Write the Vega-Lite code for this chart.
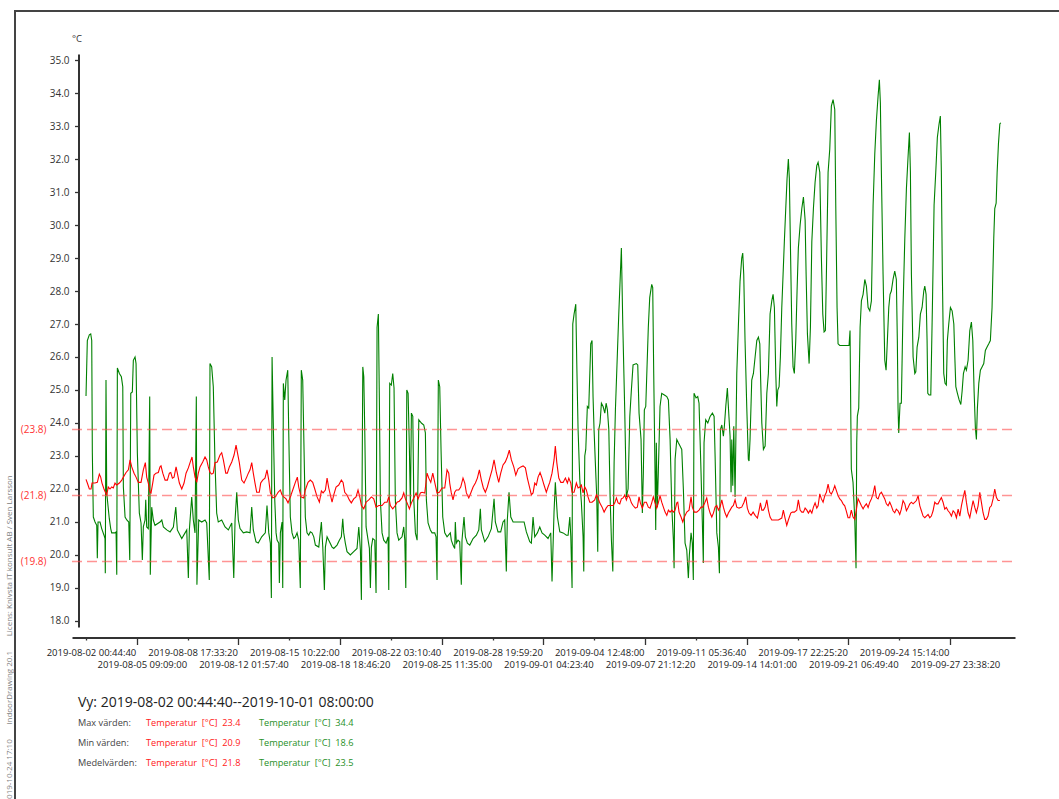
{
"$schema":"https://vega.github.io/schema/vega-lite/v6.json",
"width":1050,"height":795,
"autosize":{"type":"none"},
"padding":{"left":15,"top":11,"right":0,"bottom":0},
"background":"white",
"config":{"view":{"stroke":"#444444","strokeWidth":2},"font":"Open Sans","axis":{"labelFont":"Open Sans","titleFont":"Open Sans"},"text":{"font":"Open Sans"}},
"datasets":{
"green":[
{"time":"2019-08-02 00:45","temp":24.82},{"time":"2019-08-02 02:51","temp":26.5},{"time":"2019-08-02 06:01","temp":26.67},{"time":"2019-08-02 08:14","temp":26.7},{"time":"2019-08-02 09:49","temp":26.5},{"time":"2019-08-02 10:46","temp":23.1},{"time":"2019-08-02 12:20","temp":21.15},{"time":"2019-08-02 15:02","temp":21.0},{"time":"2019-08-02 17:43","temp":20.9},{"time":"2019-08-02 18:40","temp":19.9},{"time":"2019-08-02 19:47","temp":21.0},{"time":"2019-08-02 22:56","temp":21.0},
{"time":"2019-08-03 01:35","temp":20.8},{"time":"2019-08-03 05:13","temp":20.6},{"time":"2019-08-03 06:48","temp":20.5},{"time":"2019-08-03 07:17","temp":19.45},{"time":"2019-08-03 08:23","temp":25.3},{"time":"2019-08-03 09:30","temp":21.9},{"time":"2019-08-03 12:01","temp":21.4},{"time":"2019-08-03 13:36","temp":21.1},{"time":"2019-08-03 15:49","temp":20.8},{"time":"2019-08-03 17:24","temp":20.67},{"time":"2019-08-03 22:38","temp":20.67},
{"time":"2019-08-04 00:19","temp":20.7},{"time":"2019-08-04 01:25","temp":19.4},{"time":"2019-08-04 02:22","temp":25.67},{"time":"2019-08-04 05:32","temp":25.5},{"time":"2019-08-04 08:42","temp":25.4},{"time":"2019-08-04 10:55","temp":25.1},{"time":"2019-08-04 11:52","temp":22.06},{"time":"2019-08-04 14:33","temp":21.15},{"time":"2019-08-04 17:15","temp":21.06},{"time":"2019-08-04 20:25","temp":21.0},{"time":"2019-08-04 21:59","temp":19.85},{"time":"2019-08-04 23:34","temp":24.9},
{"time":"2019-08-05 02:03","temp":24.94},{"time":"2019-08-05 03:38","temp":25.9},{"time":"2019-08-05 06:20","temp":26.0},{"time":"2019-08-05 07:55","temp":25.8},{"time":"2019-08-05 09:58","temp":23.1},{"time":"2019-08-05 13:08","temp":21.27},{"time":"2019-08-05 15:49","temp":20.97},{"time":"2019-08-05 17:53","temp":19.85},{"time":"2019-08-05 19:28","temp":20.85},{"time":"2019-08-05 22:09","temp":21.06},{"time":"2019-08-05 23:15","temp":21.67},
{"time":"2019-08-06 00:47","temp":20.85},{"time":"2019-08-06 03:19","temp":20.8},{"time":"2019-08-06 05:32","temp":24.8},{"time":"2019-08-06 06:29","temp":19.4},{"time":"2019-08-06 08:42","temp":21.45},{"time":"2019-08-06 11:14","temp":21.06},{"time":"2019-08-06 13:55","temp":20.9},{"time":"2019-08-06 21:50","temp":21.0},
{"time":"2019-08-07 00:38","temp":21.06},{"time":"2019-08-07 03:10","temp":20.85},{"time":"2019-08-07 08:33","temp":20.76},{"time":"2019-08-07 13:46","temp":20.7},{"time":"2019-08-07 18:59","temp":20.85},{"time":"2019-08-07 22:47","temp":21.45},
{"time":"2019-08-08 01:16","temp":20.76},{"time":"2019-08-08 05:32","temp":20.6},{"time":"2019-08-08 08:14","temp":20.5},{"time":"2019-08-08 13:27","temp":20.67},{"time":"2019-08-08 16:08","temp":20.76},{"time":"2019-08-08 18:40","temp":19.3},{"time":"2019-08-08 20:15","temp":20.76},
{"time":"2019-08-09 00:00","temp":21.76},{"time":"2019-08-09 02:32","temp":21.06},{"time":"2019-08-09 05:13","temp":20.67},{"time":"2019-08-09 07:17","temp":24.8},{"time":"2019-08-09 08:14","temp":19.1},{"time":"2019-08-09 11:05","temp":21.06},{"time":"2019-08-09 15:49","temp":21.0},{"time":"2019-08-09 21:03","temp":21.06},{"time":"2019-08-09 23:44","temp":20.97},
{"time":"2019-08-10 03:48","temp":19.24},{"time":"2019-08-10 04:54","temp":25.8},{"time":"2019-08-10 07:36","temp":25.7},{"time":"2019-08-10 10:08","temp":25.1},{"time":"2019-08-10 12:49","temp":22.8},{"time":"2019-08-10 15:30","temp":21.27},{"time":"2019-08-10 18:02","temp":21.0},{"time":"2019-08-10 23:25","temp":21.06},
{"time":"2019-08-11 04:45","temp":20.85},{"time":"2019-08-11 09:58","temp":20.76},{"time":"2019-08-11 15:21","temp":20.97},{"time":"2019-08-11 18:31","temp":19.3},{"time":"2019-08-11 20:34","temp":21.06},{"time":"2019-08-11 23:15","temp":21.9},
{"time":"2019-08-12 01:44","temp":21.06},{"time":"2019-08-12 04:26","temp":20.8},{"time":"2019-08-12 09:39","temp":20.67},{"time":"2019-08-12 15:02","temp":20.7},{"time":"2019-08-12 20:15","temp":20.67},{"time":"2019-08-12 22:56","temp":21.45},
{"time":"2019-08-13 01:25","temp":20.76},{"time":"2019-08-13 05:42","temp":20.4},{"time":"2019-08-13 09:20","temp":20.36},{"time":"2019-08-13 14:43","temp":20.55},{"time":"2019-08-13 20:25","temp":20.67},{"time":"2019-08-13 23:06","temp":21.5},
{"time":"2019-08-14 01:54","temp":20.67},{"time":"2019-08-14 04:26","temp":20.36},{"time":"2019-08-14 06:01","temp":18.7},{"time":"2019-08-14 07:07","temp":26.0},{"time":"2019-08-14 09:49","temp":23.2},{"time":"2019-08-14 11:23","temp":21.67},{"time":"2019-08-14 13:27","temp":20.67},{"time":"2019-08-14 15:02","temp":20.45},{"time":"2019-08-14 17:43","temp":20.36},{"time":"2019-08-14 18:40","temp":19.15},{"time":"2019-08-14 20:15","temp":20.67},{"time":"2019-08-14 22:56","temp":21.0},
{"time":"2019-08-15 00:00","temp":19.0},{"time":"2019-08-15 00:57","temp":25.2},{"time":"2019-08-15 03:10","temp":24.7},{"time":"2019-08-15 05:13","temp":25.3},{"time":"2019-08-15 07:55","temp":25.6},{"time":"2019-08-15 09:30","temp":23.7},{"time":"2019-08-15 12:01","temp":21.15},{"time":"2019-08-15 14:43","temp":20.67},{"time":"2019-08-15 17:24","temp":20.5},{"time":"2019-08-15 19:56","temp":20.55},{"time":"2019-08-15 22:38","temp":20.67},
{"time":"2019-08-16 01:16","temp":20.45},{"time":"2019-08-16 03:48","temp":19.0},{"time":"2019-08-16 05:23","temp":25.6},{"time":"2019-08-16 07:36","temp":25.3},{"time":"2019-08-16 09:11","temp":23.7},{"time":"2019-08-16 11:43","temp":21.15},{"time":"2019-08-16 14:24","temp":20.67},{"time":"2019-08-16 17:05","temp":20.6},{"time":"2019-08-16 19:37","temp":20.7},{"time":"2019-08-16 22:19","temp":20.67},
{"time":"2019-08-17 01:07","temp":20.55},{"time":"2019-08-17 03:38","temp":20.3},{"time":"2019-08-17 09:01","temp":20.24},{"time":"2019-08-17 13:08","temp":21.0},{"time":"2019-08-17 15:21","temp":20.24},{"time":"2019-08-17 17:53","temp":18.94},{"time":"2019-08-17 19:28","temp":20.24},{"time":"2019-08-17 22:09","temp":20.55},
{"time":"2019-08-18 00:47","temp":20.45},{"time":"2019-08-18 06:01","temp":20.24},{"time":"2019-08-18 08:42","temp":20.2},{"time":"2019-08-18 13:55","temp":20.3},{"time":"2019-08-18 17:34","temp":20.45},{"time":"2019-08-18 20:44","temp":20.55},{"time":"2019-08-18 22:56","temp":21.1},
{"time":"2019-08-19 00:28","temp":20.67},{"time":"2019-08-19 03:00","temp":20.36},{"time":"2019-08-19 05:42","temp":20.1},{"time":"2019-08-19 10:55","temp":20.0},{"time":"2019-08-19 16:18","temp":20.1},{"time":"2019-08-19 21:31","temp":20.2},
{"time":"2019-08-20 00:19","temp":20.85},{"time":"2019-08-20 02:51","temp":20.15},{"time":"2019-08-20 04:26","temp":18.64},{"time":"2019-08-20 06:39","temp":25.7},{"time":"2019-08-20 08:14","temp":25.4},{"time":"2019-08-20 09:49","temp":23.7},{"time":"2019-08-20 11:52","temp":20.85},{"time":"2019-08-20 15:02","temp":20.45},{"time":"2019-08-20 17:05","temp":20.2},{"time":"2019-08-20 18:40","temp":19.0},{"time":"2019-08-20 20:15","temp":20.24},{"time":"2019-08-20 22:28","temp":20.5},
{"time":"2019-08-21 01:35","temp":20.45},{"time":"2019-08-21 03:38","temp":18.85},{"time":"2019-08-21 05:13","temp":26.9},{"time":"2019-08-21 07:17","temp":27.3},{"time":"2019-08-21 08:52","temp":24.7},{"time":"2019-08-21 10:26","temp":21.67},{"time":"2019-08-21 13:08","temp":20.67},{"time":"2019-08-21 15:49","temp":20.45},{"time":"2019-08-21 19:28","temp":20.36},{"time":"2019-08-21 22:38","temp":20.55},{"time":"2019-08-21 23:44","temp":18.94},
{"time":"2019-08-22 01:16","temp":25.2},{"time":"2019-08-22 03:48","temp":25.15},{"time":"2019-08-22 06:01","temp":25.5},{"time":"2019-08-22 08:04","temp":25.06},{"time":"2019-08-22 10:08","temp":21.67},{"time":"2019-08-22 12:49","temp":20.67},{"time":"2019-08-22 15:30","temp":20.45},{"time":"2019-08-22 20:44","temp":20.55},{"time":"2019-08-22 23:25","temp":20.85},
{"time":"2019-08-23 01:07","temp":20.45},{"time":"2019-08-23 02:41","temp":19.0},{"time":"2019-08-23 04:16","temp":25.0},{"time":"2019-08-23 06:20","temp":24.9},{"time":"2019-08-23 08:23","temp":23.2},{"time":"2019-08-23 09:58","temp":21.5},{"time":"2019-08-23 11:33","temp":24.3},{"time":"2019-08-23 13:46","temp":24.2},{"time":"2019-08-23 15:21","temp":21.67},{"time":"2019-08-23 17:53","temp":20.67},{"time":"2019-08-23 20:34","temp":20.45},{"time":"2019-08-23 23:15","temp":24.1},
{"time":"2019-08-24 03:19","temp":24.0},{"time":"2019-08-24 07:07","temp":23.94},{"time":"2019-08-24 09:39","temp":23.7},{"time":"2019-08-24 11:14","temp":21.67},{"time":"2019-08-24 13:55","temp":20.97},{"time":"2019-08-24 17:34","temp":20.76},{"time":"2019-08-24 20:15","temp":20.67},
{"time":"2019-08-25 00:28","temp":20.67},{"time":"2019-08-25 02:32","temp":20.55},{"time":"2019-08-25 04:07","temp":19.24},{"time":"2019-08-25 06:10","temp":25.3},{"time":"2019-08-25 08:23","temp":25.1},{"time":"2019-08-25 10:26","temp":23.2},{"time":"2019-08-25 13:08","temp":21.15},{"time":"2019-08-25 16:18","temp":20.67},{"time":"2019-08-25 19:56","temp":20.55},
{"time":"2019-08-26 01:07","temp":20.67},{"time":"2019-08-26 02:41","temp":20.45},{"time":"2019-08-26 05:23","temp":20.3},{"time":"2019-08-26 08:04","temp":20.2},{"time":"2019-08-26 09:01","temp":21.0},{"time":"2019-08-26 10:36","temp":20.36},{"time":"2019-08-26 13:17","temp":20.45},{"time":"2019-08-26 15:59","temp":20.4},{"time":"2019-08-26 18:31","temp":19.1},{"time":"2019-08-26 19:37","temp":20.45},{"time":"2019-08-26 22:47","temp":21.15},
{"time":"2019-08-27 00:57","temp":20.55},{"time":"2019-08-27 04:07","temp":20.36},{"time":"2019-08-27 07:55","temp":20.3},{"time":"2019-08-27 13:08","temp":20.5},{"time":"2019-08-27 18:21","temp":20.6},{"time":"2019-08-27 22:09","temp":20.76},
{"time":"2019-08-28 00:38","temp":21.4},{"time":"2019-08-28 02:13","temp":20.76},{"time":"2019-08-28 07:36","temp":20.4},{"time":"2019-08-28 12:49","temp":20.55},{"time":"2019-08-28 18:02","temp":20.8},{"time":"2019-08-28 22:19","temp":21.7},
{"time":"2019-08-29 00:19","temp":21.0},{"time":"2019-08-29 04:35","temp":20.7},{"time":"2019-08-29 08:52","temp":20.7},{"time":"2019-08-29 12:30","temp":21.0},{"time":"2019-08-29 15:11","temp":21.06},{"time":"2019-08-29 17:43","temp":19.5},{"time":"2019-08-29 19:18","temp":21.06},{"time":"2019-08-29 21:59","temp":21.9},
{"time":"2019-08-30 00:47","temp":21.15},{"time":"2019-08-30 04:26","temp":21.0},{"time":"2019-08-30 09:39","temp":21.0},{"time":"2019-08-30 15:02","temp":21.0},{"time":"2019-08-30 21:50","temp":21.0},
{"time":"2019-08-31 01:25","temp":20.7},{"time":"2019-08-31 06:48","temp":20.4},{"time":"2019-08-31 09:20","temp":20.36},{"time":"2019-08-31 12:01","temp":21.15},{"time":"2019-08-31 14:43","temp":20.55},{"time":"2019-08-31 18:50","temp":20.67},{"time":"2019-08-31 22:38","temp":20.85},
{"time":"2019-09-01 02:13","temp":20.67},{"time":"2019-09-01 06:29","temp":20.6},{"time":"2019-09-01 11:43","temp":20.5},{"time":"2019-09-01 15:59","temp":20.67},{"time":"2019-09-01 18:02","temp":19.2},{"time":"2019-09-01 21:12","temp":21.3},{"time":"2019-09-01 23:15","temp":22.2},
{"time":"2019-09-02 02:32","temp":21.15},{"time":"2019-09-02 06:20","temp":20.7},{"time":"2019-09-02 11:33","temp":20.67},{"time":"2019-09-02 16:46","temp":20.6},{"time":"2019-09-02 19:28","temp":20.6},{"time":"2019-09-02 22:09","temp":21.15},{"time":"2019-09-02 23:44","temp":20.55},
{"time":"2019-09-03 01:44","temp":19.0},{"time":"2019-09-03 02:51","temp":27.0},{"time":"2019-09-03 04:54","temp":27.3},{"time":"2019-09-03 07:36","temp":27.6},{"time":"2019-09-03 09:11","temp":25.8},{"time":"2019-09-03 11:14","temp":23.8},{"time":"2019-09-03 13:55","temp":22.3},{"time":"2019-09-03 16:27","temp":21.6},{"time":"2019-09-03 19:09","temp":20.55},{"time":"2019-09-03 20:15","temp":19.5},{"time":"2019-09-03 21:50","temp":23.0},{"time":"2019-09-03 23:25","temp":23.2},
{"time":"2019-09-04 01:54","temp":24.5},{"time":"2019-09-04 04:07","temp":24.45},{"time":"2019-09-04 07:17","temp":26.4},{"time":"2019-09-04 09:20","temp":26.5},{"time":"2019-09-04 10:55","temp":24.8},{"time":"2019-09-04 12:30","temp":23.8},{"time":"2019-09-04 14:33","temp":22.8},{"time":"2019-09-04 16:46","temp":21.76},{"time":"2019-09-04 18:21","temp":20.1},{"time":"2019-09-04 19:56","temp":23.8},{"time":"2019-09-04 21:59","temp":24.0},
{"time":"2019-09-05 00:10","temp":24.6},{"time":"2019-09-05 02:51","temp":24.5},{"time":"2019-09-05 05:32","temp":24.3},{"time":"2019-09-05 07:36","temp":24.6},{"time":"2019-09-05 09:39","temp":24.4},{"time":"2019-09-05 11:52","temp":23.8},{"time":"2019-09-05 13:55","temp":21.76},{"time":"2019-09-05 15:59","temp":20.45},{"time":"2019-09-05 18:11","temp":19.5},{"time":"2019-09-05 20:15","temp":22.8},{"time":"2019-09-05 22:19","temp":24.4},
{"time":"2019-09-06 01:25","temp":26.1},{"time":"2019-09-06 03:38","temp":27.3},{"time":"2019-09-06 05:42","temp":28.3},{"time":"2019-09-06 07:45","temp":29.3},{"time":"2019-09-06 09:58","temp":27.0},{"time":"2019-09-06 13:08","temp":24.3},{"time":"2019-09-06 15:40","temp":21.76},{"time":"2019-09-06 18:21","temp":22.0},{"time":"2019-09-06 21:03","temp":24.2},{"time":"2019-09-06 23:34","temp":25.0},
{"time":"2019-09-07 02:13","temp":25.76},{"time":"2019-09-07 07:26","temp":25.8},{"time":"2019-09-07 09:39","temp":25.76},{"time":"2019-09-07 11:43","temp":24.3},{"time":"2019-09-07 14:52","temp":23.5},{"time":"2019-09-07 16:56","temp":21.27},{"time":"2019-09-07 18:31","temp":22.5},{"time":"2019-09-07 20:05","temp":24.4},{"time":"2019-09-07 22:19","temp":24.5},
{"time":"2019-09-08 00:19","temp":25.7},{"time":"2019-09-08 02:22","temp":26.9},{"time":"2019-09-08 04:35","temp":27.8},{"time":"2019-09-08 07:45","temp":28.2},{"time":"2019-09-08 09:20","temp":28.1},{"time":"2019-09-08 10:55","temp":25.5},{"time":"2019-09-08 12:58","temp":22.5},{"time":"2019-09-08 14:05","temp":20.76},{"time":"2019-09-08 15:02","temp":23.4},{"time":"2019-09-08 16:37","temp":21.45},{"time":"2019-09-08 18:11","temp":22.5},{"time":"2019-09-08 20:53","temp":24.5},{"time":"2019-09-08 23:34","temp":24.9},
{"time":"2019-09-09 03:48","temp":24.85},{"time":"2019-09-09 07:36","temp":24.8},{"time":"2019-09-09 10:08","temp":24.7},{"time":"2019-09-09 12:49","temp":23.5},{"time":"2019-09-09 15:30","temp":21.45},{"time":"2019-09-09 18:02","temp":20.45},{"time":"2019-09-09 19:09","temp":19.6},{"time":"2019-09-09 20:44","temp":22.9},{"time":"2019-09-09 23:25","temp":23.5},
{"time":"2019-09-10 01:54","temp":23.4},{"time":"2019-09-10 04:35","temp":23.3},{"time":"2019-09-10 07:17","temp":23.2},{"time":"2019-09-10 09:49","temp":22.0},{"time":"2019-09-10 12:30","temp":20.36},{"time":"2019-09-10 15:11","temp":20.15},{"time":"2019-09-10 17:43","temp":19.3},{"time":"2019-09-10 19:18","temp":20.0},{"time":"2019-09-10 21:59","temp":20.67},
{"time":"2019-09-11 00:00","temp":20.36},{"time":"2019-09-11 01:35","temp":19.24},{"time":"2019-09-11 02:41","temp":24.9},{"time":"2019-09-11 05:51","temp":24.76},{"time":"2019-09-11 08:33","temp":24.8},{"time":"2019-09-11 10:36","temp":24.6},{"time":"2019-09-11 13:46","temp":22.5},{"time":"2019-09-11 15:49","temp":21.0},{"time":"2019-09-11 17:24","temp":19.76},{"time":"2019-09-11 18:31","temp":23.4},{"time":"2019-09-11 21:12","temp":24.1},
{"time":"2019-09-12 00:28","temp":24.0},{"time":"2019-09-12 04:07","temp":24.2},{"time":"2019-09-12 07:45","temp":24.3},{"time":"2019-09-12 10:26","temp":24.2},{"time":"2019-09-12 12:01","temp":23.0},{"time":"2019-09-12 14:43","temp":20.67},{"time":"2019-09-12 17:15","temp":20.24},{"time":"2019-09-12 18:50","temp":19.45},{"time":"2019-09-12 20:25","temp":23.8},{"time":"2019-09-12 22:38","temp":23.94},
{"time":"2019-09-13 01:07","temp":23.6},{"time":"2019-09-13 02:41","temp":23.9},{"time":"2019-09-13 04:54","temp":24.5},{"time":"2019-09-13 07:26","temp":25.06},{"time":"2019-09-13 09:01","temp":24.5},{"time":"2019-09-13 11:43","temp":23.6},{"time":"2019-09-13 13:17","temp":21.9},{"time":"2019-09-13 14:24","temp":23.5},{"time":"2019-09-13 15:59","temp":22.1},{"time":"2019-09-13 17:34","temp":23.9},{"time":"2019-09-13 19:37","temp":21.76},{"time":"2019-09-13 22:19","temp":25.5},
{"time":"2019-09-14 00:47","temp":26.9},{"time":"2019-09-14 03:29","temp":28.3},{"time":"2019-09-14 06:10","temp":29.0},{"time":"2019-09-14 07:45","temp":29.15},{"time":"2019-09-14 09:20","temp":28.5},{"time":"2019-09-14 11:23","temp":26.5},{"time":"2019-09-14 14:05","temp":24.5},{"time":"2019-09-14 16:37","temp":22.9},{"time":"2019-09-14 17:43","temp":22.85},{"time":"2019-09-14 19:18","temp":23.5},{"time":"2019-09-14 21:59","temp":25.3},
{"time":"2019-09-15 00:38","temp":25.5},{"time":"2019-09-15 03:19","temp":26.0},{"time":"2019-09-15 06:01","temp":26.5},{"time":"2019-09-15 08:33","temp":26.6},{"time":"2019-09-15 10:46","temp":26.4},{"time":"2019-09-15 11:43","temp":25.6},{"time":"2019-09-15 13:55","temp":24.0},{"time":"2019-09-15 16:27","temp":23.2},{"time":"2019-09-15 19:09","temp":23.3},{"time":"2019-09-15 21:50","temp":24.9},
{"time":"2019-09-16 00:19","temp":25.5},{"time":"2019-09-16 03:00","temp":27.3},{"time":"2019-09-16 05:42","temp":27.7},{"time":"2019-09-16 07:45","temp":27.9},{"time":"2019-09-16 09:49","temp":27.5},{"time":"2019-09-16 12:01","temp":25.5},{"time":"2019-09-16 13:36","temp":24.5},{"time":"2019-09-16 15:11","temp":25.0},{"time":"2019-09-16 17:15","temp":25.1},{"time":"2019-09-16 19:18","temp":26.0},{"time":"2019-09-16 21:31","temp":27.5},{"time":"2019-09-16 23:34","temp":28.5},
{"time":"2019-09-17 01:35","temp":29.5},{"time":"2019-09-17 03:48","temp":30.5},{"time":"2019-09-17 05:51","temp":31.4},{"time":"2019-09-17 07:55","temp":32.0},{"time":"2019-09-17 09:30","temp":31.4},{"time":"2019-09-17 11:05","temp":29.5},{"time":"2019-09-17 13:17","temp":27.0},{"time":"2019-09-17 15:21","temp":25.7},{"time":"2019-09-17 17:24","temp":25.5},{"time":"2019-09-17 19:37","temp":26.5},{"time":"2019-09-17 21:41","temp":28.0},{"time":"2019-09-17 23:44","temp":29.3},
{"time":"2019-09-18 02:32","temp":30.0},{"time":"2019-09-18 05:13","temp":30.5},{"time":"2019-09-18 07:45","temp":30.85},{"time":"2019-09-18 10:26","temp":30.15},{"time":"2019-09-18 12:01","temp":28.5},{"time":"2019-09-18 14:05","temp":26.7},{"time":"2019-09-18 16:46","temp":25.8},{"time":"2019-09-18 18:50","temp":26.9},{"time":"2019-09-18 21:03","temp":29.5},{"time":"2019-09-18 23:34","temp":30.5},
{"time":"2019-09-19 02:13","temp":31.3},{"time":"2019-09-19 04:54","temp":31.8},{"time":"2019-09-19 06:58","temp":31.9},{"time":"2019-09-19 09:39","temp":31.6},{"time":"2019-09-19 12:11","temp":29.0},{"time":"2019-09-19 14:24","temp":27.3},{"time":"2019-09-19 16:27","temp":26.76},{"time":"2019-09-19 18:31","temp":26.8},{"time":"2019-09-19 20:05","temp":28.5},{"time":"2019-09-19 22:47","temp":31.6},
{"time":"2019-09-20 01:25","temp":32.3},{"time":"2019-09-20 03:57","temp":33.6},{"time":"2019-09-20 06:39","temp":33.8},{"time":"2019-09-20 09:20","temp":33.5},{"time":"2019-09-20 10:55","temp":30.6},{"time":"2019-09-20 12:58","temp":27.5},{"time":"2019-09-20 14:33","temp":26.4},{"time":"2019-09-20 17:15","temp":26.35},
{"time":"2019-09-21 00:00","temp":26.35},{"time":"2019-09-21 07:55","temp":26.35},{"time":"2019-09-21 09:30","temp":26.8},{"time":"2019-09-21 10:36","temp":24.45},{"time":"2019-09-21 11:33","temp":22.6},{"time":"2019-09-21 14:14","temp":22.2},{"time":"2019-09-21 16:56","temp":21.1},{"time":"2019-09-21 18:59","temp":19.6},{"time":"2019-09-21 20:05","temp":23.4},{"time":"2019-09-21 21:03","temp":24.2},{"time":"2019-09-21 23:15","temp":24.45},
{"time":"2019-09-22 01:25","temp":26.9},{"time":"2019-09-22 03:29","temp":27.7},{"time":"2019-09-22 06:10","temp":27.9},{"time":"2019-09-22 08:52","temp":28.35},{"time":"2019-09-22 11:23","temp":28.15},{"time":"2019-09-22 14:05","temp":27.5},{"time":"2019-09-22 16:46","temp":27.4},{"time":"2019-09-22 19:18","temp":27.7},{"time":"2019-09-22 21:59","temp":30.6},
{"time":"2019-09-23 00:38","temp":32.15},{"time":"2019-09-23 03:10","temp":33.15},{"time":"2019-09-23 05:51","temp":33.9},{"time":"2019-09-23 07:55","temp":34.4},{"time":"2019-09-23 09:30","temp":33.7},{"time":"2019-09-23 11:05","temp":31.6},{"time":"2019-09-23 13:46","temp":28.5},{"time":"2019-09-23 16:27","temp":25.9},{"time":"2019-09-23 18:31","temp":25.6},{"time":"2019-09-23 20:34","temp":26.5},{"time":"2019-09-23 22:47","temp":27.5},
{"time":"2019-09-24 00:47","temp":27.9},{"time":"2019-09-24 02:51","temp":28.0},{"time":"2019-09-24 05:32","temp":28.35},{"time":"2019-09-24 08:14","temp":28.6},{"time":"2019-09-24 10:46","temp":28.35},{"time":"2019-09-24 12:20","temp":26.5},{"time":"2019-09-24 13:27","temp":24.45},{"time":"2019-09-24 14:33","temp":23.7},{"time":"2019-09-24 16:37","temp":24.6},{"time":"2019-09-24 18:40","temp":24.6},{"time":"2019-09-24 21:22","temp":27.5},
{"time":"2019-09-25 00:10","temp":29.6},{"time":"2019-09-25 02:41","temp":31.1},{"time":"2019-09-25 05:23","temp":32.1},{"time":"2019-09-25 07:26","temp":32.8},{"time":"2019-09-25 09:01","temp":31.6},{"time":"2019-09-25 10:36","temp":28.5},{"time":"2019-09-25 13:17","temp":26.0},{"time":"2019-09-25 15:59","temp":25.5},{"time":"2019-09-25 17:34","temp":25.55},{"time":"2019-09-25 19:37","temp":26.3},{"time":"2019-09-25 22:19","temp":26.6},
{"time":"2019-09-26 00:47","temp":27.3},{"time":"2019-09-26 03:29","temp":27.5},{"time":"2019-09-26 06:10","temp":28.0},{"time":"2019-09-26 07:45","temp":28.15},{"time":"2019-09-26 09:49","temp":27.9},{"time":"2019-09-26 11:23","temp":26.5},{"time":"2019-09-26 12:30","temp":24.9},{"time":"2019-09-26 14:33","temp":24.85},{"time":"2019-09-26 17:15","temp":24.85},{"time":"2019-09-26 19:47","temp":27.5},{"time":"2019-09-26 22:28","temp":30.6},
{"time":"2019-09-27 01:07","temp":31.6},{"time":"2019-09-27 03:38","temp":32.65},{"time":"2019-09-27 06:20","temp":33.06},{"time":"2019-09-27 08:23","temp":33.3},{"time":"2019-09-27 09:58","temp":31.6},{"time":"2019-09-27 11:33","temp":28.5},{"time":"2019-09-27 13:46","temp":25.5},{"time":"2019-09-27 15:49","temp":25.2},{"time":"2019-09-27 17:53","temp":25.15},{"time":"2019-09-27 19:28","temp":26.5},{"time":"2019-09-27 21:41","temp":27.0},
{"time":"2019-09-28 00:19","temp":27.5},{"time":"2019-09-28 03:00","temp":27.4},{"time":"2019-09-28 05:42","temp":27.0},{"time":"2019-09-28 07:17","temp":26.0},{"time":"2019-09-28 08:52","temp":25.1},{"time":"2019-09-28 11:23","temp":24.9},{"time":"2019-09-28 14:05","temp":24.7},{"time":"2019-09-28 16:46","temp":24.56},{"time":"2019-09-28 18:50","temp":24.97},{"time":"2019-09-28 20:53","temp":25.5},{"time":"2019-09-28 23:34","temp":25.7},
{"time":"2019-09-29 01:35","temp":25.6},{"time":"2019-09-29 04:16","temp":25.9},{"time":"2019-09-29 06:58","temp":26.8},{"time":"2019-09-29 09:30","temp":27.06},{"time":"2019-09-29 11:43","temp":26.5},{"time":"2019-09-29 13:46","temp":24.97},{"time":"2019-09-29 15:49","temp":23.85},{"time":"2019-09-29 17:24","temp":23.5},{"time":"2019-09-29 18:59","temp":24.45},{"time":"2019-09-29 21:12","temp":25.2},{"time":"2019-09-29 23:44","temp":25.6},
{"time":"2019-09-30 02:22","temp":25.7},{"time":"2019-09-30 05:04","temp":25.8},{"time":"2019-09-30 07:36","temp":26.2},{"time":"2019-09-30 10:17","temp":26.3},{"time":"2019-09-30 12:58","temp":26.4},{"time":"2019-09-30 15:30","temp":26.5},{"time":"2019-09-30 18:11","temp":27.5},{"time":"2019-09-30 20:53","temp":29.6},{"time":"2019-09-30 22:28","temp":30.5},
{"time":"2019-10-01 00:38","temp":30.66},{"time":"2019-10-01 02:13","temp":31.6},{"time":"2019-10-01 04:16","temp":32.45},{"time":"2019-10-01 06:29","temp":33.06},{"time":"2019-10-01 08:00","temp":33.1}
],
"red":[
{"time":"2019-08-02 00:45","temp":22.29},{"time":"2019-08-02 02:51","temp":22.18},{"time":"2019-08-02 06:01","temp":22.0},{"time":"2019-08-02 08:42","temp":22.0},{"time":"2019-08-02 10:17","temp":22.18},{"time":"2019-08-02 15:02","temp":22.18},{"time":"2019-08-02 18:40","temp":22.2},{"time":"2019-08-02 21:50","temp":22.45},
{"time":"2019-08-03 00:00","temp":22.36},{"time":"2019-08-03 02:03","temp":22.18},{"time":"2019-08-03 05:13","temp":22.0},{"time":"2019-08-03 07:55","temp":21.88},{"time":"2019-08-03 09:30","temp":21.82},{"time":"2019-08-03 12:01","temp":22.06},{"time":"2019-08-03 14:43","temp":22.0},{"time":"2019-08-03 17:24","temp":22.06},{"time":"2019-08-03 19:56","temp":22.03},{"time":"2019-08-03 22:38","temp":22.18},
{"time":"2019-08-04 01:25","temp":22.12},{"time":"2019-08-04 05:32","temp":22.18},{"time":"2019-08-04 09:20","temp":22.27},{"time":"2019-08-04 11:52","temp":22.36},{"time":"2019-08-04 16:08","temp":22.5},{"time":"2019-08-04 19:47","temp":22.58},{"time":"2019-08-04 22:28","temp":22.88},
{"time":"2019-08-05 01:07","temp":22.67},{"time":"2019-08-05 04:45","temp":22.48},{"time":"2019-08-05 07:55","temp":22.36},{"time":"2019-08-05 11:33","temp":22.2},{"time":"2019-08-05 15:49","temp":22.2},{"time":"2019-08-05 19:28","temp":22.58},{"time":"2019-08-05 22:38","temp":22.8},
{"time":"2019-08-06 00:47","temp":22.36},{"time":"2019-08-06 03:19","temp":22.18},{"time":"2019-08-06 06:01","temp":21.9},{"time":"2019-08-06 07:36","temp":21.88},{"time":"2019-08-06 10:17","temp":22.18},{"time":"2019-08-06 12:20","temp":22.42},{"time":"2019-08-06 15:30","temp":22.48},{"time":"2019-08-06 19:09","temp":22.5},{"time":"2019-08-06 21:50","temp":22.67},{"time":"2019-08-06 23:25","temp":22.7},
{"time":"2019-08-07 02:13","temp":22.48},{"time":"2019-08-07 05:51","temp":22.27},{"time":"2019-08-07 09:30","temp":22.27},{"time":"2019-08-07 12:39","temp":22.48},{"time":"2019-08-07 14:52","temp":22.5},{"time":"2019-08-07 17:24","temp":22.33},{"time":"2019-08-07 20:05","temp":22.36},{"time":"2019-08-07 23:15","temp":22.67},
{"time":"2019-08-08 01:16","temp":22.48},{"time":"2019-08-08 04:26","temp":22.18},{"time":"2019-08-08 08:14","temp":22.0},{"time":"2019-08-08 11:52","temp":22.18},{"time":"2019-08-08 15:02","temp":22.48},{"time":"2019-08-08 18:40","temp":22.64},{"time":"2019-08-08 21:22","temp":22.8},
{"time":"2019-08-09 00:28","temp":22.97},{"time":"2019-08-09 02:32","temp":22.67},{"time":"2019-08-09 05:13","temp":22.36},{"time":"2019-08-09 07:55","temp":22.2},{"time":"2019-08-09 10:26","temp":22.48},{"time":"2019-08-09 13:08","temp":22.67},{"time":"2019-08-09 17:24","temp":22.82},{"time":"2019-08-09 21:03","temp":22.97},{"time":"2019-08-09 23:44","temp":22.88},
{"time":"2019-08-10 02:13","temp":22.67},{"time":"2019-08-10 04:54","temp":22.5},{"time":"2019-08-10 07:36","temp":22.45},{"time":"2019-08-10 10:08","temp":22.48},{"time":"2019-08-10 12:49","temp":22.8},{"time":"2019-08-10 16:27","temp":22.82},{"time":"2019-08-10 20:44","temp":23.03},{"time":"2019-08-10 23:25","temp":23.1},
{"time":"2019-08-11 02:03","temp":22.88},{"time":"2019-08-11 05:51","temp":22.48},{"time":"2019-08-11 08:23","temp":22.48},{"time":"2019-08-11 11:33","temp":22.67},{"time":"2019-08-11 15:21","temp":22.82},{"time":"2019-08-11 18:59","temp":23.03},{"time":"2019-08-11 22:09","temp":23.33},
{"time":"2019-08-12 00:10","temp":23.12},{"time":"2019-08-12 03:19","temp":22.8},{"time":"2019-08-12 07:07","temp":22.27},{"time":"2019-08-12 10:46","temp":22.18},{"time":"2019-08-12 15:02","temp":22.36},{"time":"2019-08-12 17:34","temp":22.48},{"time":"2019-08-12 20:15","temp":22.58},{"time":"2019-08-12 22:56","temp":22.8},
{"time":"2019-08-13 01:25","temp":22.48},{"time":"2019-08-13 04:07","temp":22.18},{"time":"2019-08-13 06:48","temp":21.9},{"time":"2019-08-13 10:55","temp":21.9},{"time":"2019-08-13 13:08","temp":22.18},{"time":"2019-08-13 16:18","temp":22.27},{"time":"2019-08-13 19:56","temp":22.33},{"time":"2019-08-13 23:06","temp":22.58},
{"time":"2019-08-14 01:54","temp":22.27},{"time":"2019-08-14 04:26","temp":21.88},{"time":"2019-08-14 08:14","temp":21.73},{"time":"2019-08-14 12:20","temp":21.76},{"time":"2019-08-14 16:37","temp":21.9},{"time":"2019-08-14 20:15","temp":21.97},{"time":"2019-08-14 22:56","temp":21.82},
{"time":"2019-08-15 01:35","temp":21.76},{"time":"2019-08-15 05:13","temp":21.7},{"time":"2019-08-15 08:23","temp":21.58},{"time":"2019-08-15 12:01","temp":21.76},{"time":"2019-08-15 15:49","temp":21.97},{"time":"2019-08-15 19:56","temp":22.2},{"time":"2019-08-15 23:06","temp":22.36},
{"time":"2019-08-16 01:16","temp":22.06},{"time":"2019-08-16 04:54","temp":21.76},{"time":"2019-08-16 09:11","temp":21.73},{"time":"2019-08-16 11:43","temp":21.97},{"time":"2019-08-16 15:59","temp":22.2},{"time":"2019-08-16 19:37","temp":22.27},{"time":"2019-08-16 23:25","temp":22.2},
{"time":"2019-08-17 02:41","temp":22.0},{"time":"2019-08-17 06:20","temp":21.76},{"time":"2019-08-17 09:58","temp":21.6},{"time":"2019-08-17 13:08","temp":21.94},{"time":"2019-08-17 15:49","temp":21.88},{"time":"2019-08-17 19:28","temp":21.97},{"time":"2019-08-17 22:09","temp":22.33},
{"time":"2019-08-18 00:47","temp":22.03},{"time":"2019-08-18 06:01","temp":21.6},{"time":"2019-08-18 08:42","temp":21.82},{"time":"2019-08-18 12:20","temp":22.06},{"time":"2019-08-18 16:37","temp":22.12},{"time":"2019-08-18 20:44","temp":22.27},{"time":"2019-08-18 23:25","temp":22.2},
{"time":"2019-08-19 02:03","temp":21.9},{"time":"2019-08-19 05:42","temp":21.82},{"time":"2019-08-19 09:20","temp":21.67},{"time":"2019-08-19 12:30","temp":21.58},{"time":"2019-08-19 16:18","temp":21.7},{"time":"2019-08-19 19:56","temp":21.76},{"time":"2019-08-19 23:06","temp":21.97},
{"time":"2019-08-20 01:54","temp":21.76},{"time":"2019-08-20 04:26","temp":21.5},{"time":"2019-08-20 08:14","temp":21.4},{"time":"2019-08-20 11:52","temp":21.6},{"time":"2019-08-20 16:08","temp":21.67},{"time":"2019-08-20 20:15","temp":21.76},
{"time":"2019-08-21 00:00","temp":21.7},{"time":"2019-08-21 03:38","temp":21.45},{"time":"2019-08-21 07:55","temp":21.5},{"time":"2019-08-21 13:08","temp":21.5},{"time":"2019-08-21 17:24","temp":21.6},{"time":"2019-08-21 21:03","temp":21.6},{"time":"2019-08-21 23:44","temp":21.76},
{"time":"2019-08-22 02:13","temp":21.5},{"time":"2019-08-22 06:01","temp":21.4},{"time":"2019-08-22 10:08","temp":21.5},{"time":"2019-08-22 12:49","temp":21.6},{"time":"2019-08-22 16:27","temp":21.63},{"time":"2019-08-22 20:44","temp":21.73},{"time":"2019-08-22 23:25","temp":21.88},
{"time":"2019-08-23 02:03","temp":21.7},{"time":"2019-08-23 04:45","temp":21.58},{"time":"2019-08-23 08:23","temp":21.4},{"time":"2019-08-23 11:33","temp":21.58},{"time":"2019-08-23 15:21","temp":21.73},{"time":"2019-08-23 18:59","temp":21.88},{"time":"2019-08-23 22:09","temp":21.7},
{"time":"2019-08-24 01:44","temp":21.88},{"time":"2019-08-24 04:26","temp":21.9},{"time":"2019-08-24 08:42","temp":21.88},{"time":"2019-08-24 12:20","temp":22.48},{"time":"2019-08-24 15:02","temp":22.33},{"time":"2019-08-24 18:11","temp":22.2},{"time":"2019-08-24 21:22","temp":22.48},
{"time":"2019-08-25 00:28","temp":22.2},{"time":"2019-08-25 04:07","temp":21.88},{"time":"2019-08-25 07:45","temp":21.9},{"time":"2019-08-25 12:01","temp":22.03},{"time":"2019-08-25 16:18","temp":22.03},{"time":"2019-08-25 19:56","temp":22.58},{"time":"2019-08-25 22:38","temp":22.48},
{"time":"2019-08-26 00:10","temp":22.18},{"time":"2019-08-26 02:41","temp":21.88},{"time":"2019-08-26 05:23","temp":21.67},{"time":"2019-08-26 08:04","temp":21.9},{"time":"2019-08-26 10:36","temp":21.97},{"time":"2019-08-26 14:24","temp":21.97},{"time":"2019-08-26 17:34","temp":22.06},{"time":"2019-08-26 21:12","temp":22.33},
{"time":"2019-08-27 00:00","temp":22.18},{"time":"2019-08-27 02:32","temp":21.88},{"time":"2019-08-27 06:20","temp":21.73},{"time":"2019-08-27 09:30","temp":21.88},{"time":"2019-08-27 13:08","temp":22.06},{"time":"2019-08-27 16:46","temp":22.18},{"time":"2019-08-27 19:56","temp":22.33},{"time":"2019-08-27 23:06","temp":22.58},
{"time":"2019-08-28 02:13","temp":22.27},{"time":"2019-08-28 05:23","temp":22.03},{"time":"2019-08-28 08:33","temp":21.9},{"time":"2019-08-28 11:43","temp":22.06},{"time":"2019-08-28 15:30","temp":22.33},{"time":"2019-08-28 19:09","temp":22.58},{"time":"2019-08-28 22:19","temp":22.88},
{"time":"2019-08-29 01:54","temp":22.5},{"time":"2019-08-29 05:42","temp":22.2},{"time":"2019-08-29 08:52","temp":22.48},{"time":"2019-08-29 12:30","temp":22.73},{"time":"2019-08-29 16:08","temp":22.82},{"time":"2019-08-29 19:18","temp":22.97},{"time":"2019-08-29 22:28","temp":23.18},
{"time":"2019-08-30 01:44","temp":22.88},{"time":"2019-08-30 05:32","temp":22.67},{"time":"2019-08-30 08:42","temp":22.42},{"time":"2019-08-30 12:20","temp":22.61},{"time":"2019-08-30 16:37","temp":22.67},{"time":"2019-08-30 20:15","temp":22.7},{"time":"2019-08-30 23:53","temp":22.64},
{"time":"2019-08-31 03:00","temp":22.33},{"time":"2019-08-31 06:48","temp":22.03},{"time":"2019-08-31 09:20","temp":21.82},{"time":"2019-08-31 12:01","temp":21.88},{"time":"2019-08-31 14:43","temp":22.18},{"time":"2019-08-31 17:15","temp":22.12},{"time":"2019-08-31 19:56","temp":22.36},{"time":"2019-08-31 23:06","temp":22.5},
{"time":"2019-09-01 02:13","temp":22.33},{"time":"2019-09-01 05:23","temp":22.12},{"time":"2019-09-01 09:01","temp":21.9},{"time":"2019-09-01 11:43","temp":22.06},{"time":"2019-09-01 14:24","temp":22.2},{"time":"2019-09-01 18:02","temp":22.48},{"time":"2019-09-01 21:12","temp":22.88},{"time":"2019-09-01 23:15","temp":23.3},
{"time":"2019-09-02 01:35","temp":22.8},{"time":"2019-09-02 04:45","temp":22.33},{"time":"2019-09-02 07:55","temp":22.2},{"time":"2019-09-02 11:33","temp":22.2},{"time":"2019-09-02 15:11","temp":22.33},{"time":"2019-09-02 18:21","temp":22.18},{"time":"2019-09-02 20:34","temp":22.33},{"time":"2019-09-02 23:44","temp":22.18},
{"time":"2019-09-03 01:44","temp":21.9},{"time":"2019-09-03 04:54","temp":21.9},{"time":"2019-09-03 08:33","temp":22.18},{"time":"2019-09-03 11:14","temp":22.03},{"time":"2019-09-03 13:55","temp":22.06},{"time":"2019-09-03 16:27","temp":22.12},{"time":"2019-09-03 19:09","temp":21.88},{"time":"2019-09-03 21:50","temp":22.06},
{"time":"2019-09-04 00:19","temp":21.97},{"time":"2019-09-04 03:00","temp":21.76},{"time":"2019-09-04 05:42","temp":21.6},{"time":"2019-09-04 09:20","temp":21.6},{"time":"2019-09-04 13:36","temp":21.67},{"time":"2019-09-04 16:08","temp":21.82},{"time":"2019-09-04 18:50","temp":21.73},{"time":"2019-09-04 21:31","temp":21.58},
{"time":"2019-09-05 01:16","temp":21.45},{"time":"2019-09-05 04:26","temp":21.3},{"time":"2019-09-05 07:36","temp":21.42},{"time":"2019-09-05 10:46","temp":21.5},{"time":"2019-09-05 15:02","temp":21.5},{"time":"2019-09-05 18:40","temp":21.5},{"time":"2019-09-05 21:22","temp":21.58},{"time":"2019-09-05 23:53","temp":21.73},
{"time":"2019-09-06 02:32","temp":21.58},{"time":"2019-09-06 05:13","temp":21.55},{"time":"2019-09-06 07:45","temp":21.7},{"time":"2019-09-06 10:26","temp":21.73},{"time":"2019-09-06 13:08","temp":21.82},{"time":"2019-09-06 15:40","temp":21.67},{"time":"2019-09-06 18:21","temp":21.82},{"time":"2019-09-06 21:03","temp":21.73},{"time":"2019-09-06 23:34","temp":21.58},
{"time":"2019-09-07 02:13","temp":21.5},{"time":"2019-09-07 05:51","temp":21.42},{"time":"2019-09-07 09:01","temp":21.45},{"time":"2019-09-07 11:43","temp":21.76},{"time":"2019-09-07 13:46","temp":21.58},{"time":"2019-09-07 16:56","temp":21.42},{"time":"2019-09-07 20:05","temp":21.6},{"time":"2019-09-07 23:15","temp":21.6},
{"time":"2019-09-08 02:22","temp":21.45},{"time":"2019-09-08 05:04","temp":21.42},{"time":"2019-09-08 07:45","temp":21.58},{"time":"2019-09-08 10:17","temp":21.76},{"time":"2019-09-08 12:58","temp":21.58},{"time":"2019-09-08 15:40","temp":21.42},{"time":"2019-09-08 18:11","temp":21.58},{"time":"2019-09-08 20:53","temp":21.8},{"time":"2019-09-08 23:34","temp":21.6},
{"time":"2019-09-09 02:13","temp":21.45},{"time":"2019-09-09 04:54","temp":21.3},{"time":"2019-09-09 07:36","temp":21.2},{"time":"2019-09-09 10:08","temp":21.36},{"time":"2019-09-09 12:49","temp":21.3},{"time":"2019-09-09 15:30","temp":21.36},{"time":"2019-09-09 18:02","temp":21.3},{"time":"2019-09-09 20:44","temp":21.36},{"time":"2019-09-09 23:25","temp":21.58},
{"time":"2019-09-10 00:57","temp":21.6},{"time":"2019-09-10 03:00","temp":21.3},{"time":"2019-09-10 06:10","temp":21.15},{"time":"2019-09-10 08:52","temp":21.0},{"time":"2019-09-10 11:23","temp":21.15},{"time":"2019-09-10 15:11","temp":21.3},{"time":"2019-09-10 18:50","temp":21.36},{"time":"2019-09-10 21:59","temp":21.76},
{"time":"2019-09-11 00:00","temp":21.45},{"time":"2019-09-11 03:10","temp":21.3},{"time":"2019-09-11 06:58","temp":21.3},{"time":"2019-09-11 10:36","temp":21.36},{"time":"2019-09-11 13:46","temp":21.45},{"time":"2019-09-11 16:27","temp":21.45},{"time":"2019-09-11 20:05","temp":21.6},{"time":"2019-09-11 22:47","temp":21.73},
{"time":"2019-09-12 01:25","temp":21.45},{"time":"2019-09-12 04:07","temp":21.27},{"time":"2019-09-12 06:48","temp":21.15},{"time":"2019-09-12 09:20","temp":21.27},{"time":"2019-09-12 12:01","temp":21.45},{"time":"2019-09-12 14:43","temp":21.5},{"time":"2019-09-12 17:15","temp":21.36},{"time":"2019-09-12 19:56","temp":21.45},{"time":"2019-09-12 22:38","temp":21.67},
{"time":"2019-09-13 01:07","temp":21.45},{"time":"2019-09-13 03:48","temp":21.27},{"time":"2019-09-13 06:29","temp":21.15},{"time":"2019-09-13 09:01","temp":21.27},{"time":"2019-09-13 11:43","temp":21.36},{"time":"2019-09-13 14:24","temp":21.45},{"time":"2019-09-13 16:56","temp":21.5},{"time":"2019-09-13 19:37","temp":21.67},{"time":"2019-09-13 22:19","temp":21.45},
{"time":"2019-09-14 01:54","temp":21.42},{"time":"2019-09-14 06:10","temp":21.45},{"time":"2019-09-14 09:49","temp":21.6},{"time":"2019-09-14 12:30","temp":21.76},{"time":"2019-09-14 15:02","temp":21.42},{"time":"2019-09-14 17:43","temp":21.27},{"time":"2019-09-14 20:53","temp":21.2},
{"time":"2019-09-15 00:10","temp":21.3},{"time":"2019-09-15 03:19","temp":21.2},{"time":"2019-09-15 06:58","temp":21.12},{"time":"2019-09-15 09:39","temp":21.36},{"time":"2019-09-15 11:43","temp":21.58},{"time":"2019-09-15 13:55","temp":21.36},{"time":"2019-09-15 16:27","temp":21.36},{"time":"2019-09-15 19:09","temp":21.45},{"time":"2019-09-15 21:50","temp":21.67},
{"time":"2019-09-16 00:19","temp":21.36},{"time":"2019-09-16 03:00","temp":21.15},{"time":"2019-09-16 05:42","temp":21.06},{"time":"2019-09-16 10:55","temp":21.06},{"time":"2019-09-16 16:08","temp":21.06},{"time":"2019-09-16 21:31","temp":21.12},
{"time":"2019-09-17 00:00","temp":21.36},{"time":"2019-09-17 02:41","temp":21.12},{"time":"2019-09-17 05:23","temp":20.9},{"time":"2019-09-17 07:55","temp":21.06},{"time":"2019-09-17 11:43","temp":21.27},{"time":"2019-09-17 14:14","temp":21.3},{"time":"2019-09-17 17:24","temp":21.3},{"time":"2019-09-17 21:12","temp":21.36},{"time":"2019-09-17 23:44","temp":21.67},
{"time":"2019-09-18 02:32","temp":21.36},{"time":"2019-09-18 05:13","temp":21.3},{"time":"2019-09-18 07:45","temp":21.3},{"time":"2019-09-18 10:26","temp":21.42},{"time":"2019-09-18 13:08","temp":21.36},{"time":"2019-09-18 15:40","temp":21.27},{"time":"2019-09-18 18:21","temp":21.36},{"time":"2019-09-18 21:03","temp":21.27},{"time":"2019-09-18 23:34","temp":21.45},
{"time":"2019-09-19 02:13","temp":21.58},{"time":"2019-09-19 04:54","temp":21.42},{"time":"2019-09-19 06:58","temp":21.49},{"time":"2019-09-19 09:39","temp":21.85},{"time":"2019-09-19 12:11","temp":21.7},{"time":"2019-09-19 14:52","temp":21.6},{"time":"2019-09-19 17:34","temp":21.8},{"time":"2019-09-19 20:05","temp":21.9},{"time":"2019-09-19 22:47","temp":22.15},
{"time":"2019-09-20 01:25","temp":21.9},{"time":"2019-09-20 03:57","temp":21.85},{"time":"2019-09-20 06:39","temp":21.95},{"time":"2019-09-20 09:20","temp":22.1},{"time":"2019-09-20 11:52","temp":21.95},{"time":"2019-09-20 14:33","temp":21.8},{"time":"2019-09-20 17:15","temp":21.7},{"time":"2019-09-20 19:47","temp":21.65},{"time":"2019-09-20 22:28","temp":21.55},
{"time":"2019-09-21 01:07","temp":21.49},{"time":"2019-09-21 03:38","temp":21.33},{"time":"2019-09-21 06:20","temp":21.13},{"time":"2019-09-21 09:01","temp":21.13},{"time":"2019-09-21 11:33","temp":21.36},{"time":"2019-09-21 14:14","temp":21.15},{"time":"2019-09-21 16:56","temp":21.08},{"time":"2019-09-21 19:28","temp":21.36},{"time":"2019-09-21 22:09","temp":21.71},
{"time":"2019-09-22 00:57","temp":21.6},{"time":"2019-09-22 03:29","temp":21.49},{"time":"2019-09-22 06:10","temp":21.4},{"time":"2019-09-22 08:52","temp":21.49},{"time":"2019-09-22 11:23","temp":21.55},{"time":"2019-09-22 14:05","temp":21.44},{"time":"2019-09-22 16:46","temp":21.6},{"time":"2019-09-22 19:18","temp":21.7},{"time":"2019-09-22 21:59","temp":21.85},
{"time":"2019-09-23 00:38","temp":22.1},{"time":"2019-09-23 03:10","temp":21.74},{"time":"2019-09-23 05:51","temp":21.7},{"time":"2019-09-23 08:33","temp":21.85},{"time":"2019-09-23 11:05","temp":21.9},{"time":"2019-09-23 13:46","temp":21.8},{"time":"2019-09-23 16:27","temp":21.7},{"time":"2019-09-23 18:59","temp":21.55},{"time":"2019-09-23 21:41","temp":21.49},
{"time":"2019-09-24 00:19","temp":21.6},{"time":"2019-09-24 02:51","temp":21.49},{"time":"2019-09-24 05:32","temp":21.34},{"time":"2019-09-24 08:14","temp":21.28},{"time":"2019-09-24 10:46","temp":21.39},{"time":"2019-09-24 13:27","temp":21.34},{"time":"2019-09-24 16:08","temp":21.23},{"time":"2019-09-24 18:40","temp":21.39},{"time":"2019-09-24 21:22","temp":21.65},
{"time":"2019-09-25 00:10","temp":21.55},{"time":"2019-09-25 02:41","temp":21.34},{"time":"2019-09-25 05:23","temp":21.44},{"time":"2019-09-25 08:04","temp":21.55},{"time":"2019-09-25 10:36","temp":21.6},{"time":"2019-09-25 13:17","temp":21.55},{"time":"2019-09-25 15:59","temp":21.6},{"time":"2019-09-25 18:31","temp":21.65},{"time":"2019-09-25 21:12","temp":21.8},{"time":"2019-09-25 23:53","temp":21.49},
{"time":"2019-09-26 02:22","temp":21.34},{"time":"2019-09-26 05:04","temp":21.18},{"time":"2019-09-26 07:45","temp":21.13},{"time":"2019-09-26 10:17","temp":21.18},{"time":"2019-09-26 12:58","temp":21.23},{"time":"2019-09-26 15:40","temp":21.13},{"time":"2019-09-26 18:11","temp":21.18},{"time":"2019-09-26 20:53","temp":21.34},{"time":"2019-09-26 23:34","temp":21.6},
{"time":"2019-09-27 02:03","temp":21.55},{"time":"2019-09-27 04:45","temp":21.55},{"time":"2019-09-27 07:26","temp":21.65},{"time":"2019-09-27 09:58","temp":21.74},{"time":"2019-09-27 12:39","temp":21.6},{"time":"2019-09-27 15:21","temp":21.39},{"time":"2019-09-27 17:53","temp":21.44},{"time":"2019-09-27 20:34","temp":21.34},{"time":"2019-09-27 23:15","temp":21.28},
{"time":"2019-09-28 01:54","temp":21.18},{"time":"2019-09-28 04:35","temp":21.34},{"time":"2019-09-28 07:17","temp":21.28},{"time":"2019-09-28 09:49","temp":21.13},{"time":"2019-09-28 12:30","temp":21.39},{"time":"2019-09-28 15:11","temp":21.18},{"time":"2019-09-28 17:43","temp":21.49},{"time":"2019-09-28 20:25","temp":21.74},{"time":"2019-09-28 23:06","temp":21.96},
{"time":"2019-09-29 01:35","temp":21.6},{"time":"2019-09-29 04:16","temp":21.28},{"time":"2019-09-29 06:58","temp":21.13},{"time":"2019-09-29 09:30","temp":21.39},{"time":"2019-09-29 12:11","temp":21.65},{"time":"2019-09-29 14:52","temp":21.44},{"time":"2019-09-29 17:24","temp":21.28},{"time":"2019-09-29 20:05","temp":21.49},{"time":"2019-09-29 22:47","temp":21.9},
{"time":"2019-09-30 01:16","temp":21.6},{"time":"2019-09-30 03:57","temp":21.28},{"time":"2019-09-30 06:39","temp":21.08},{"time":"2019-09-30 09:11","temp":21.08},{"time":"2019-09-30 11:52","temp":21.18},{"time":"2019-09-30 14:33","temp":21.44},{"time":"2019-09-30 17:05","temp":21.49},{"time":"2019-09-30 19:47","temp":21.7},{"time":"2019-09-30 22:28","temp":22.0},
{"time":"2019-10-01 01:07","temp":21.74},{"time":"2019-10-01 03:48","temp":21.65},{"time":"2019-10-01 06:29","temp":21.65}
],
"limits":[{"limit":19.8},{"limit":21.8},{"limit":23.8}],
"info":[
{"row":"vy","col":"label","text":"Vy: 2019-08-02 00:44:40--2019-10-01 08:00:00"},
{"row":"max","col":"label","text":"Max värden:"},
{"row":"min","col":"label","text":"Min värden:"},
{"row":"medel","col":"label","text":"Medelvärden:"},
{"row":"max","col":"red","text":"Temperatur\u00a0\u00a0[°C]\u00a0\u00a023.4"},
{"row":"min","col":"red","text":"Temperatur\u00a0\u00a0[°C]\u00a0\u00a020.9"},
{"row":"medel","col":"red","text":"Temperatur\u00a0\u00a0[°C]\u00a0\u00a021.8"},
{"row":"max","col":"green","text":"Temperatur\u00a0\u00a0[°C]\u00a0\u00a034.4"},
{"row":"min","col":"green","text":"Temperatur\u00a0\u00a0[°C]\u00a0\u00a018.6"},
{"row":"medel","col":"green","text":"Temperatur\u00a0\u00a0[°C]\u00a0\u00a023.5"}
]
},
"layer":[
{
"layer":[
{
"data":{"name":"green"},
"mark":{"type":"line","color":"#008000","strokeWidth":1.1},
"encoding":{
"x":{"field":"time","type":"temporal",
"scale":{"domain":[{"year":2019,"month":8,"date":1,"hours":2,"minutes":35,"seconds":44},{"year":2019,"month":10,"date":2,"hours":6,"minutes":29,"seconds":0}],"range":[57,1000]},
"axis":{"orient":"bottom","offset":-168.5,"title":null,"grid":false,
"values":[
{"year":2019,"month":8,"date":2,"hours":0,"minutes":44,"seconds":40},
{"year":2019,"month":8,"date":5,"hours":9,"minutes":9,"seconds":0},
{"year":2019,"month":8,"date":8,"hours":17,"minutes":33,"seconds":20},
{"year":2019,"month":8,"date":12,"hours":1,"minutes":57,"seconds":40},
{"year":2019,"month":8,"date":15,"hours":10,"minutes":22,"seconds":0},
{"year":2019,"month":8,"date":18,"hours":18,"minutes":46,"seconds":20},
{"year":2019,"month":8,"date":22,"hours":3,"minutes":10,"seconds":40},
{"year":2019,"month":8,"date":25,"hours":11,"minutes":35,"seconds":0},
{"year":2019,"month":8,"date":28,"hours":19,"minutes":59,"seconds":20},
{"year":2019,"month":9,"date":1,"hours":4,"minutes":23,"seconds":40},
{"year":2019,"month":9,"date":4,"hours":12,"minutes":48,"seconds":0},
{"year":2019,"month":9,"date":7,"hours":21,"minutes":12,"seconds":20},
{"year":2019,"month":9,"date":11,"hours":5,"minutes":36,"seconds":40},
{"year":2019,"month":9,"date":14,"hours":14,"minutes":1,"seconds":0},
{"year":2019,"month":9,"date":17,"hours":22,"minutes":25,"seconds":20},
{"year":2019,"month":9,"date":21,"hours":6,"minutes":49,"seconds":40},
{"year":2019,"month":9,"date":24,"hours":15,"minutes":14,"seconds":0},
{"year":2019,"month":9,"date":27,"hours":23,"minutes":38,"seconds":20}],
"format":"%Y-%m-%d %H:%M:%S","formatType":"time",
"labelFont":"Open Sans","labelFontSize":9.5,"labelColor":"#222222","labelAngle":0,
"labelOverlap":false,"labelFlush":false,"labelBound":false,"labelOffset":5,
"labelPadding":{"condition":{"test":"round((datum.value - datetime(2019,7,2,0,44,40)) / 289460000) % 2 == 1","value":15},"value":7.5},
"tickSize":{"condition":{"test":"round((datum.value - datetime(2019,7,2,0,44,40)) / 289460000) % 2 == 1","value":7},"value":2.5},
"tickColor":"#333333","tickWidth":1.3,
"domainColor":"#333333","domainWidth":2,
"encode":{"ticks":{"update":{"y":{"value":-4}}}}
}},
"y":{"field":"temp","type":"quantitative",
"scale":{"domain":[17.818,35.182],"range":[616,43],"zero":false,"nice":false},
"axis":{"orient":"left","offset":-63.5,"grid":false,
"values":[18,19,20,21,22,23,24,25,26,27,28,29,30,31,32,33,34,35],"format":".1f",
"labelFont":"Open Sans","labelFontSize":10,"labelColor":"#333333","labelPadding":5.5,"labelOverlap":false,"labelFlush":false,
"tickSize":4,"tickColor":"#333333","tickWidth":1.3,
"domainColor":"#333333","domainWidth":2,
"title":"°C","titleAngle":0,"titleX":-2,"titleY":27.5,"titleAlign":"center","titleBaseline":"middle","titleFontSize":9.5,"titleFontWeight":"normal","titleColor":"#333333"
}}
}
},
{
"data":{"name":"red"},
"mark":{"type":"line","color":"#ff0000","strokeWidth":1.1},
"encoding":{
"x":{"field":"time","type":"temporal"},
"y":{"field":"temp","type":"quantitative"}
}
}
]
},
{
"data":{"name":"limits"},
"mark":{"type":"rule","color":"#ff4d4d","opacity":0.6,"strokeWidth":1.5,"strokeDash":[10,5]},
"encoding":{
"x":{"datum":{"year":2019,"month":8,"date":1,"hours":2,"minutes":35,"seconds":44},"type":"temporal",
"scale":{"domain":[{"year":2019,"month":8,"date":1,"hours":2,"minutes":35,"seconds":44},{"year":2019,"month":10,"date":2,"hours":6,"minutes":29,"seconds":0}],"range":[57,1000]},"axis":null},
"x2":{"datum":{"year":2019,"month":10,"date":2,"hours":6,"minutes":29,"seconds":0}},
"y":{"field":"limit","type":"quantitative",
"scale":{"domain":[17.818,35.182],"range":[616,43],"zero":false,"nice":false},
"axis":{"orient":"left","offset":-31,"grid":false,"ticks":false,"domain":false,
"values":[19.8,21.8,23.8],"labelExpr":"'(' + format(datum.value, '.1f') + ')'",
"labelFont":"Open Sans","labelFontSize":10,"labelColor":"#ff3333","labelPadding":0,"labelOverlap":false,"labelFlush":false,
"title":"2019-10-24 17:10\u00a0\u00a0\u00a0\u00a0\u00a0\u00a0\u00a0IndoorDrawing 20.1\u00a0\u00a0\u00a0\u00a0\u00a0\u00a0\u00a0Licens: Knivsta IT konsult AB / Sven Larsson",
"titleAngle":270,"titleX":-36.5,"titleY":792,"titleAlign":"left","titleBaseline":"middle","titleFontSize":8,"titleFontWeight":"normal","titleColor":"#808080","titleFont":"Open Sans"
}}
}
},
{
"data":{"name":"info"},
"transform":[{"filter":"datum.row == 'vy'"}],
"mark":{"type":"text","align":"left","baseline":"middle","fontSize":14,"color":"#222222","font":"Open Sans"},
"encoding":{
"x":{"field":"col","type":"nominal","scale":{"type":"point","domain":["label","red","green"],"range":[63,244],"padding":0},"axis":null},
"y":{"field":"row","type":"nominal","scale":{"type":"point","domain":["vy","max","min","medel"],"range":[692,752],"padding":0},"axis":null},
"text":{"field":"text"}
}
},
{
"data":{"name":"info"},
"transform":[{"filter":"datum.row != 'vy' && datum.col == 'label'"}],
"mark":{"type":"text","align":"left","baseline":"middle","fontSize":9.2,"color":"#444444","font":"Open Sans"},
"encoding":{
"x":{"field":"col","type":"nominal","scale":{"type":"point","domain":["label","red","green"],"range":[63,244],"padding":0},"axis":null},
"y":{"field":"row","type":"nominal","scale":{"type":"point","domain":["vy","max","min","medel"],"range":[692,752],"padding":0},"axis":null},
"text":{"field":"text"}
}
},
{
"data":{"name":"info"},
"transform":[{"filter":"datum.col == 'red'"}],
"mark":{"type":"text","align":"left","baseline":"middle","fontSize":9.2,"color":"#ff2020","font":"Open Sans","dx":-22.5},
"encoding":{
"x":{"field":"col","type":"nominal","scale":{"type":"point","domain":["label","red","green"],"range":[63,244],"padding":0},"axis":null},
"y":{"field":"row","type":"nominal","scale":{"type":"point","domain":["vy","max","min","medel"],"range":[692,752],"padding":0},"axis":null},
"text":{"field":"text"}
}
},
{
"data":{"name":"info"},
"transform":[{"filter":"datum.col == 'green'"}],
"mark":{"type":"text","align":"left","baseline":"middle","fontSize":9.2,"color":"#1f8f1f","font":"Open Sans"},
"encoding":{
"x":{"field":"col","type":"nominal","scale":{"type":"point","domain":["label","red","green"],"range":[63,244],"padding":0},"axis":null},
"y":{"field":"row","type":"nominal","scale":{"type":"point","domain":["vy","max","min","medel"],"range":[692,752],"padding":0},"axis":null},
"text":{"field":"text"}
}
}
],
"resolve":{"scale":{"x":"independent","y":"independent"},"axis":{"x":"independent","y":"independent"}}
}
